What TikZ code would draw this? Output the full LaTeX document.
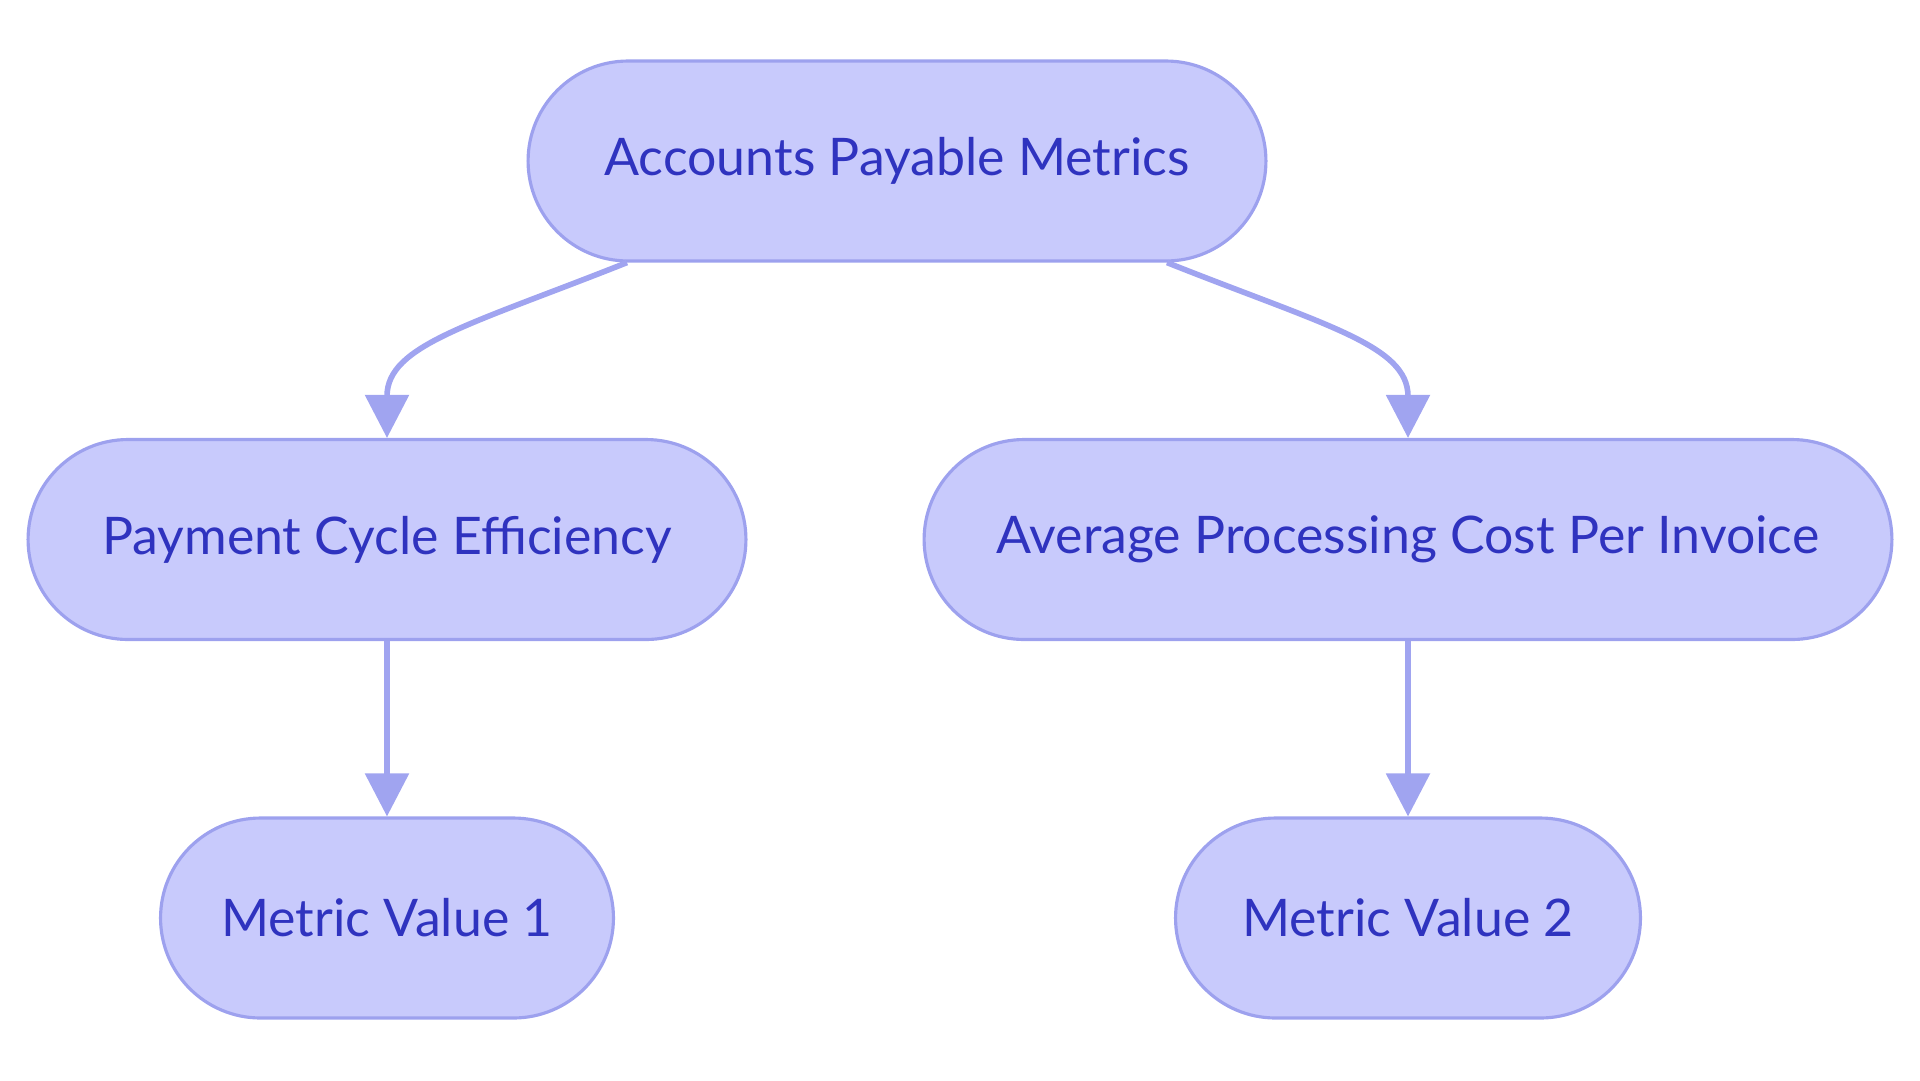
\documentclass[tikz,border=0pt]{standalone}
\usepackage{fontspec}
\setmainfont{Lato}
\usetikzlibrary{arrows.meta,calc}
\definecolor{boxfill}{HTML}{C8CAFC}
\definecolor{boxline}{HTML}{9DA1EE}
\definecolor{boxtext}{HTML}{2F33BF}
\definecolor{arrowline}{HTML}{A0A4F0}
\begin{document}
\begin{tikzpicture}[x=0.02cm,y=-0.02cm,
	metric/.style={draw=boxline,fill=boxfill,line width=1.8pt,rounded corners=2cm,
		minimum height=4cm,inner sep=0pt,text=boxtext,font=\fontsize{29.5}{34}\selectfont},
	link/.style={draw=arrowline,line width=3.2pt,-{Triangle[length=0.86cm,width=0.86cm]}}]
	\useasboundingbox (0,0) rectangle (1920,1080);
	\node[metric,minimum width=14.76cm] (apm) at (897,161) {Accounts Payable Metrics};
	\node[metric,minimum width=14.36cm] (pce) at (387,539.5) {Payment Cycle Efficiency};
	\node[metric,minimum width=19.36cm] (apc) at (1408,539.5) {Average Processing Cost Per Invoice};
	\node[metric,minimum width=9.06cm] (mv1) at (387,918) {Metric Value 1};
	\node[metric,minimum width=9.3cm] (mv2) at (1408,918) {Metric Value 2};
	% branches
	\draw[link] ($(apm.south)+(-270,0)$) .. controls (470,325) and (387,345) .. (pce.north);
	\draw[link] ($(apm.south)+(270,0)$) .. controls (1324,325) and (1408,345) .. (apc.north);
	\draw[link] (pce.south) -- (mv1.north);
	\draw[link] (apc.south) -- (mv2.north);
\end{tikzpicture}
\end{document}
